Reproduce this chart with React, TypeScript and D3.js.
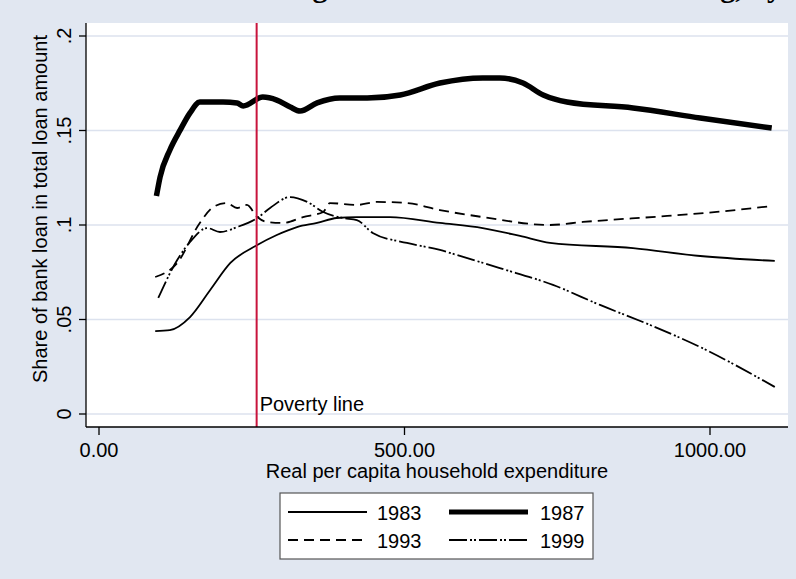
import { useEffect, useRef } from "react";
import * as d3 from "d3";

type Pt = [number, number];

// values (x = expenditure, y = share)
const series1983: Pt[] = [
    [92, 0.0439], [116, 0.0444], [149, 0.0513], [182, 0.0656], [215, 0.0799], [259, 0.0894],
    [291, 0.0947], [324, 0.0989], [357, 0.1011], [389, 0.1037], [422, 0.1042], [476, 0.1042],
    [558, 0.1011], [628, 0.0984], [689, 0.0942], [738, 0.0905], [874, 0.0878], [984, 0.0836],
    [1106, 0.081],
];
const series1987: Pt[] = [
    [94, 0.1153], [100, 0.1254], [116, 0.1397], [133, 0.1503], [149, 0.1593], [165, 0.1651],
    [203, 0.1651], [226, 0.1646], [236, 0.163], [268, 0.1677], [291, 0.1661], [313, 0.1624],
    [329, 0.1603], [357, 0.1646], [394, 0.1672], [439, 0.1672], [493, 0.1688], [558, 0.1751],
    [628, 0.1778], [656, 0.1778], [694, 0.1751], [727, 0.1688], [766, 0.1651], [874, 0.1619],
    [984, 0.1566], [1101, 0.1513],
];
const series1993: Pt[] = [
    [92, 0.0725], [128, 0.0799], [165, 0.1011], [187, 0.1095], [209, 0.1116], [226, 0.109],
    [242, 0.1106], [259, 0.1042], [275, 0.1016], [301, 0.1011], [334, 0.1042], [367, 0.1069],
    [378, 0.1116], [422, 0.1106], [455, 0.1122], [504, 0.1116], [558, 0.1079], [628, 0.1042],
    [738, 0.1], [792, 0.1016], [930, 0.1048], [1011, 0.1069], [1103, 0.1101],
];
const series1999: Pt[] = [
    [97, 0.0614], [128, 0.0815], [149, 0.091], [177, 0.0984], [198, 0.0963], [226, 0.0989],
    [259, 0.1037], [280, 0.109], [313, 0.1148], [341, 0.1122], [367, 0.1069], [399, 0.1037],
    [422, 0.1026], [448, 0.0958], [504, 0.0905], [558, 0.0868], [586, 0.0841], [656, 0.0772],
    [743, 0.0683], [820, 0.0577], [902, 0.0471], [984, 0.0354], [1106, 0.0143],
];

const xTicks = [0, 500, 1000];
const yTicks = [0, 0.05, 0.1, 0.15, 0.2];
const yTickLabels = ["0", ".05", ".1", ".15", ".2"];
const povertyLine = 258;

const styles = [
    { name: "1983", data: series1983, width: 1.8, dash: "" },
    { name: "1987", data: series1987, width: 5.5, dash: "" },
    { name: "1993", data: series1993, width: 1.8, dash: "10,6" },
    { name: "1999", data: series1999, width: 1.8, dash: "18,3,2,2,2,3" },
];

const W = 796;
const H = 579;
const BG = "#E1E7F1";
const GRID = "#DCE2EE";
const FONT = "Arial, 'Liberation Sans', sans-serif";

export default function App() {
    const svgRef = useRef<SVGSVGElement | null>(null);

    useEffect(() => {
        const svg = d3.select(svgRef.current!);
        svg.selectAll("*").remove();

        const left = 86, right = 788, top = 23, bottom = 427;

        const x = d3.scaleLinear().domain([0, 1000]).range([99, 710]);
        const y = d3.scaleLinear().domain([0, 0.2]).range([414, 36]);

        svg.append("rect").attr("width", W).attr("height", H).attr("fill", BG);

        // title sits above the frame, only its descenders show
        const title = svg.append("g")
            .attr("font-family", "'Liberation Serif', 'DejaVu Serif', serif")
            .attr("font-weight", "bold")
            .attr("font-size", 30)
            .attr("fill", "#000");
        title.append("text").attr("x", 320).attr("y", -3).attr("text-anchor", "middle").text("g");
        title.append("text").attr("x", 782).attr("y", -3).attr("text-anchor", "end").text("g, by");

        svg.append("rect")
            .attr("x", left).attr("y", top)
            .attr("width", right - left).attr("height", bottom - top)
            .attr("fill", "#fff");

        // gridlines
        svg.append("g")
            .selectAll("line")
            .data(yTicks)
            .join("line")
            .attr("x1", left).attr("x2", right)
            .attr("y1", (d) => y(d)).attr("y2", (d) => y(d))
            .attr("stroke", GRID)
            .attr("stroke-width", 1.6);

        const line = d3
            .line<Pt>()
            .x((d) => x(d[0]))
            .y((d) => y(d[1]))
            .curve(d3.curveMonotoneX);

        svg.append("g")
            .selectAll("path")
            .data(styles)
            .join("path")
            .attr("fill", "none")
            .attr("stroke", "#000")
            .attr("stroke-width", (d) => d.width)
            .attr("stroke-dasharray", (d) => d.dash || null)
            .attr("stroke-linejoin", "round")
            .attr("d", (d) => line(d.data));

        // poverty line
        svg.append("line")
            .attr("x1", x(povertyLine)).attr("x2", x(povertyLine))
            .attr("y1", top).attr("y2", bottom)
            .attr("stroke", "#C8143C")
            .attr("stroke-width", 2);
        svg.append("text")
            .attr("x", x(povertyLine) + 3).attr("y", 411)
            .attr("font-family", FONT).attr("font-size", 20)
            .text("Poverty line");

        // axes
        const axisG = svg.append("g").attr("stroke", "#000").attr("stroke-width", 1.3);
        axisG.append("line").attr("x1", left).attr("x2", left).attr("y1", top).attr("y2", bottom);
        axisG.append("line").attr("x1", left).attr("x2", right).attr("y1", bottom).attr("y2", bottom);
        axisG.selectAll("line.yt").data(yTicks).join("line").attr("class", "yt")
            .attr("x1", left - 7).attr("x2", left)
            .attr("y1", (d) => y(d)).attr("y2", (d) => y(d));
        axisG.selectAll("line.xt").data(xTicks).join("line").attr("class", "xt")
            .attr("x1", (d) => x(d)).attr("x2", (d) => x(d))
            .attr("y1", bottom).attr("y2", bottom + 8);

        svg.append("g")
            .attr("font-family", FONT).attr("font-size", 20).attr("text-anchor", "middle")
            .selectAll("text")
            .data(yTicks)
            .join("text")
            .attr("transform", (d) => `translate(71,${y(d)}) rotate(-90)`)
            .text((_d, i) => yTickLabels[i]);

        svg.append("g")
            .attr("font-family", FONT).attr("font-size", 20).attr("text-anchor", "middle")
            .selectAll("text")
            .data(xTicks)
            .join("text")
            .attr("x", (d) => x(d)).attr("y", 457)
            .text((d) => d3.format(".2f")(d));

        svg.append("text")
            .attr("transform", "translate(47,209) rotate(-90)")
            .attr("font-family", FONT).attr("font-size", 20).attr("text-anchor", "middle")
            .text("Share of bank loan in total loan amount");

        svg.append("text")
            .attr("x", (left + right) / 2).attr("y", 478)
            .attr("font-family", FONT).attr("font-size", 20).attr("text-anchor", "middle")
            .text("Real per capita household expenditure");

        // legend
        const lg = svg.append("g");
        lg.append("rect")
            .attr("x", 280).attr("y", 493).attr("width", 313).attr("height", 66)
            .attr("fill", "#fff").attr("stroke", "#555").attr("stroke-width", 1.2);
        const cols = [[288, 367, 377], [449, 528, 540]];
        const rows = [512, 540];
        styles.forEach((s, i) => {
            const [x1, x2, tx] = cols[i % 2];
            const ly = rows[Math.floor(i / 2)];
            lg.append("line")
                .attr("x1", x1).attr("x2", x2).attr("y1", ly).attr("y2", ly)
                .attr("stroke", "#000")
                .attr("stroke-width", s.width === 5.5 ? 5 : s.width)
                .attr("stroke-dasharray", s.dash || null);
            lg.append("text")
                .attr("x", tx).attr("y", ly + 8)
                .attr("font-family", FONT).attr("font-size", 20)
                .text(s.name);
        });
    }, []);

    return (
        <svg
            ref={svgRef}
            width={W}
            height={H}
            style={{ position: "absolute", left: 0, top: 0, display: "block" }}
        />
    );
}
